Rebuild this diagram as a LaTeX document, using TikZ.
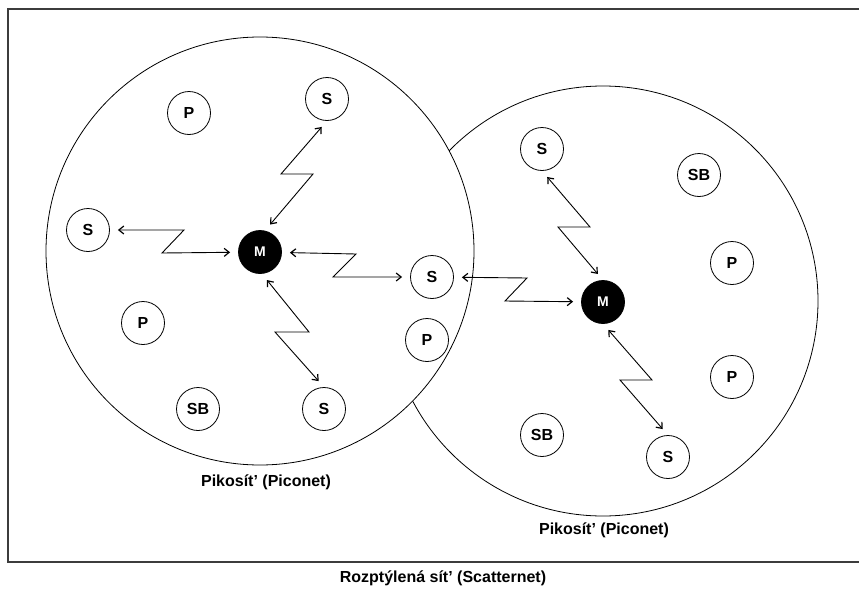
\documentclass[tikz,border=0pt]{standalone}
\usepackage{fontspec}
\setmainfont{Liberation Sans}
\usetikzlibrary{arrows.meta}
\definecolor{FrameClr}{RGB}{60,60,60}
\definecolor{MasterClr}{rgb}{0,0,0}

\tikzset{
  unit/.style={circle,draw,line width=0.8pt,minimum size=43pt,inner sep=0pt,
    font=\fontsize{16}{16}\selectfont\bfseries},
  master/.style={unit,fill=MasterClr,text=white,
    font=\fontsize{14}{14}\selectfont\bfseries},
  link/.style={line width=0.9pt,
    {Straight Barb[length=5pt,width=8pt,line width=1.2pt]}-{Straight Barb[length=5pt,width=8pt,line width=1.2pt]},
    shorten <=8pt,shorten >=8pt},
  piconet/.style={draw,line width=0.8pt,fill=white},
  caption/.style={font=\fontsize{16}{16}\selectfont\bfseries}
}

\begin{document}
\begin{tikzpicture}[x=1pt,y=-1pt]
\useasboundingbox (0,0) rectangle (859,589);

% Frame, open on the right.
\draw[FrameClr,line width=1.6pt] (859,9) -- (8,9) -- (8,562) -- (859,562);

% Piconets, the left one lies over the right one.
\draw[piconet] (603,301) circle[radius=215pt];
\draw[piconet] (260,251) circle[radius=214pt];

% Left piconet.
\node[master] (mL) at (260,252) {M};
\node[unit] (pL1) at (189,113) {P};
\node[unit] (sLt) at (327,99) {S};
\node[unit] (sL) at (88,230) {S};
\node[unit] (pL2) at (143,323) {P};
\node[unit] (sbL) at (198,409) {SB};
\node[unit] (sLb) at (324,409) {S};
\node[unit] (pL3) at (427,340) {P};

% Slave shared by both piconets.
\node[unit] (sB) at (432,277) {S};

% Right piconet.
\node[master] (mR) at (603,302) {M};
\node[unit] (sRt) at (542,149) {S};
\node[unit] (sbR1) at (699,175) {SB};
\node[unit] (pR1) at (732,263) {P};
\node[unit] (pR2) at (732,377) {P};
\node[unit] (sbR2) at (542,435) {SB};
\node[unit] (sRb) at (668,457) {S};

% Radio links.
\draw[link] (sL) -- (184,230) -- (162,253) -- (mL);
\draw[link] (mL.77) -- (313,174) -- (281,174) -- (sLt.south);
\draw[link] (mL) -- (356,254) -- (333,277) -- (sB);
\draw[link] (mL.-85) -- (309,332) -- (275,332) -- (sLb.north);
\draw[link] (sB) -- (527,278) -- (505,301) -- (mR);
\draw[link] (sRt.south) -- (590,227) -- (558,227) -- (mR.north);
\draw[link] (mR.south) -- (652,380) -- (620,380) -- (sRb.north);

% Captions.
\node[caption] (picoL) at (266,482) {Pikosít' (Piconet)};
\node[caption] (picoR) at (604,530) {Pikosít' (Piconet)};
\node[caption] (scatter) at (443,578) {Rozptýlená sít' (Scatternet)};

\end{tikzpicture}
\end{document}
